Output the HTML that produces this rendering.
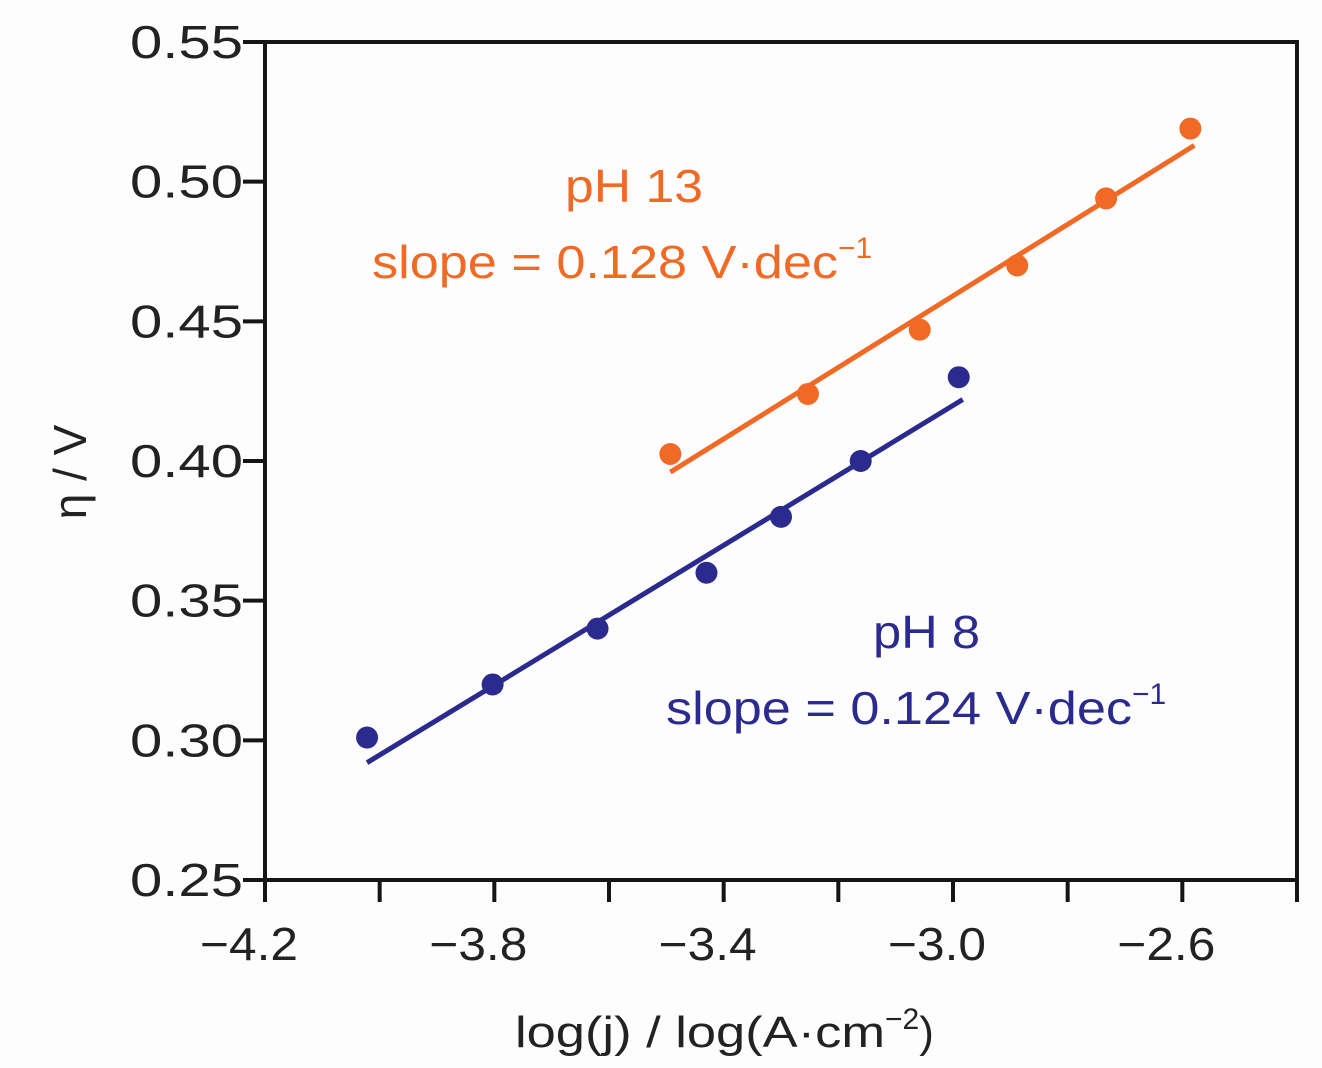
<!DOCTYPE html>
<html><head><meta charset="utf-8"><style>
html,body{margin:0;padding:0;background:#fdfdfd;}
svg{display:block;font-family:"Liberation Sans",sans-serif;}
</style></head><body>
<svg id="chart" width="1322" height="1068" viewBox="0 0 1322 1068">
<rect width="1322" height="1068" fill="#fdfdfd"/>
<g id="axes"></g>
<g id="series"></g>
<text x="565" y="202" font-size="46" fill="#f06a26" textLength="138" lengthAdjust="spacingAndGlyphs">pH 13</text>
<text x="372" y="278" font-size="46" fill="#f06a26"><tspan textLength="466" lengthAdjust="spacingAndGlyphs">slope = 0.128 V·dec</tspan><tspan dy="-20" font-size="30">−1</tspan></text>
<text x="873" y="648" font-size="46" fill="#2b2a8e" textLength="107" lengthAdjust="spacingAndGlyphs">pH 8</text>
<text x="666" y="724" font-size="46" fill="#2b2a8e"><tspan textLength="466" lengthAdjust="spacingAndGlyphs">slope = 0.124 V·dec</tspan><tspan dy="-20" font-size="30">−1</tspan></text>
<text x="515" y="1047" font-size="44" fill="#222"><tspan textLength="370" lengthAdjust="spacingAndGlyphs">log(j) / log(A·cm</tspan><tspan dy="-18" font-size="30">−2</tspan><tspan dy="18">)</tspan></text>
<text transform="translate(86,472) rotate(-90)" font-size="46" fill="#222" text-anchor="middle">η / V</text>
</svg>
<script>
const xTicks=[-4.2,-4.0,-3.8,-3.6,-3.4,-3.2,-3.0,-2.8,-2.6,-2.4];
const xLabels=["−4.2","","−3.8","","−3.4","","−3.0","","−2.6",""];
const yTicks=[0.25,0.30,0.35,0.40,0.45,0.50,0.55];
const yLabels=["0.25","0.30","0.35","0.40","0.45","0.50","0.55"];
const ph8X=[-4.022,-3.803,-3.620,-3.430,-3.300,-3.161,-2.990];
const ph8Y=[0.301,0.320,0.340,0.360,0.380,0.400,0.430];
const ph8Fit=[[-4.022,0.292],[-2.983,0.422]];
const ph13X=[-3.493,-3.253,-3.058,-2.888,-2.733,-2.586];
const ph13Y=[0.4025,0.424,0.447,0.470,0.494,0.519];
const ph13Fit=[[-3.493,0.396],[-2.579,0.513]];
const X0=265,X1=1297,Y0=880,Y1=42;
const sx=v=>X0+(v+4.2)/1.8*(X1-X0);
const sy=v=>Y0-(v-0.25)/0.30*(Y0-Y1);
const NS="http://www.w3.org/2000/svg";
function mk(tag,attrs,parent){const e=document.createElementNS(NS,tag);for(const k in attrs)e.setAttribute(k,attrs[k]);parent.appendChild(e);return e;}
const ax=document.getElementById('axes'),sr=document.getElementById('series');
const frame=mk('rect',{x:X0,y:Y1,width:X1-X0,height:Y0-Y1,fill:'none',stroke:'#151515','stroke-width':4},ax);


xTicks.forEach((t,i)=>{
  const l=mk('line',{x1:sx(t),x2:sx(t),y1:Y0,y2:Y0+22,stroke:'#151515','stroke-width':4},ax);
  
  
  if(xLabels[i]){const tx=mk('text',{x:sx(t)-16,y:960,'font-size':46,fill:'#222','text-anchor':'middle','textLength':98,'lengthAdjust':'spacingAndGlyphs'},ax);tx.textContent=xLabels[i];
  
  }
});
yTicks.forEach((t,i)=>{
  const l=mk('line',{x1:X0-22,x2:X0,y1:sy(t),y2:sy(t),stroke:'#151515','stroke-width':4},ax);
  
  
  const tx=mk('text',{x:130,y:sy(t)+16,'font-size':46,fill:'#222','textLength':113,'lengthAdjust':'spacingAndGlyphs'},ax);tx.textContent=yLabels[i];
  
  
});
function series(xs,ys,fit,color,name){
  const ln=mk('line',{x1:sx(fit[0][0]),y1:sy(fit[0][1]),x2:sx(fit[1][0]),y2:sy(fit[1][1]),stroke:color,'stroke-width':5},sr);
  
  
  xs.forEach((x,i)=>{const c=mk('circle',{cx:sx(x),cy:sy(ys[i]),r:11,fill:color},sr);
    
    });
}
series(ph8X,ph8Y,ph8Fit,'#2b2a8e','ph8');
series(ph13X,ph13Y,ph13Fit,'#f06a26','ph13');
</script>
</body></html>
